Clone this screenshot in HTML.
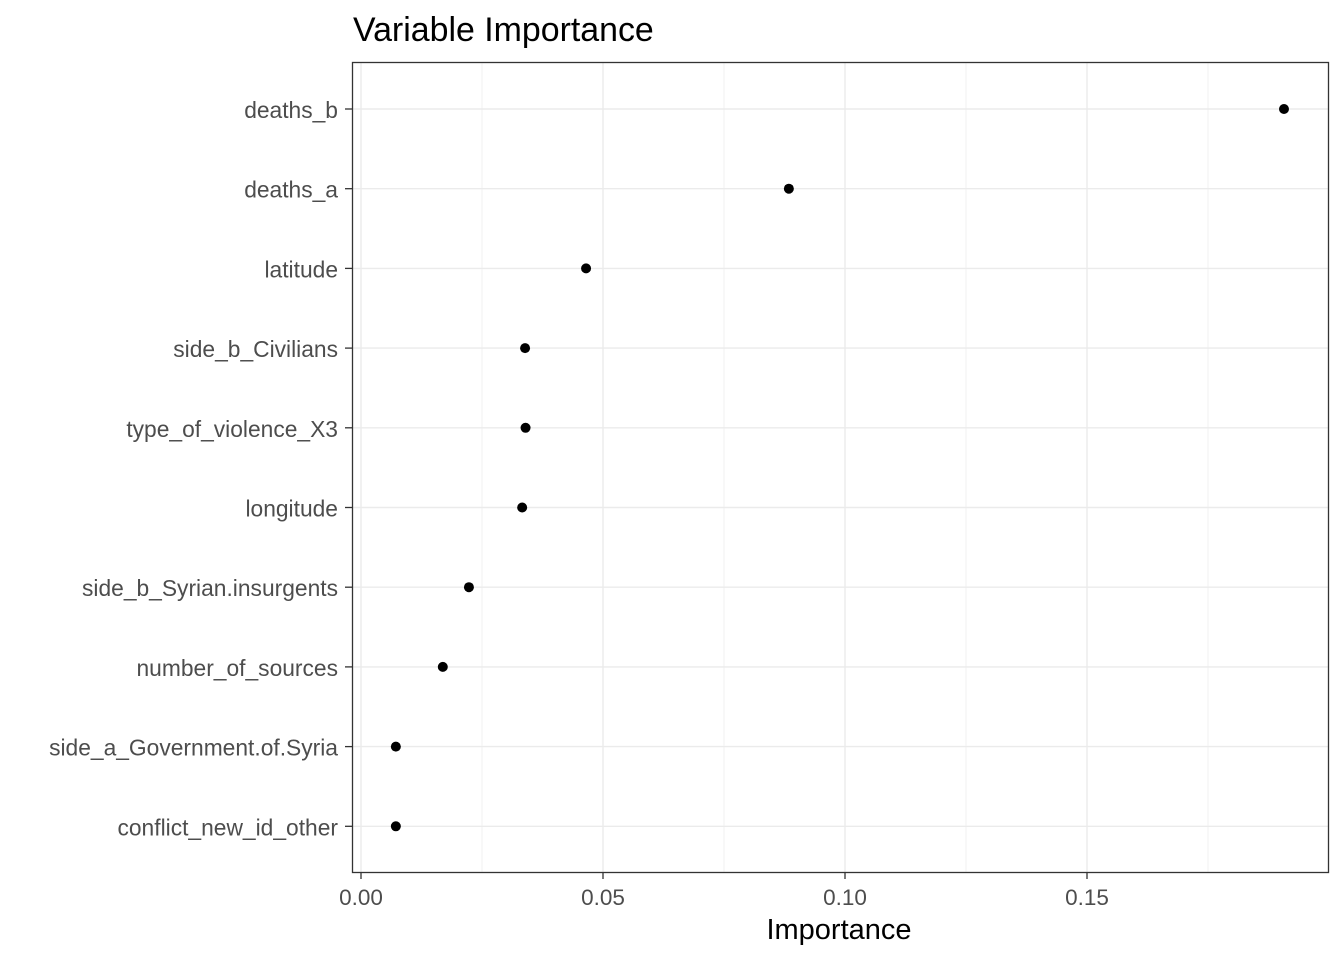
<!DOCTYPE html>
<html><head><meta charset="utf-8"><style>
body{margin:0;background:#fff;font-family:"Liberation Sans",Arial,sans-serif}
svg text{font-family:"Liberation Sans",Arial,sans-serif}
</style></head><body>
<svg id="chart" width="1344" height="960">
<text x="353" y="41" font-size="33.9" fill="#000">Variable Importance</text>
<g id="grid"></g>
<g id="ylabels"></g>
<g id="xlabels"></g>
<g id="points"></g>
<rect x="352.5" y="62.5" width="976" height="810" fill="none" stroke="#333" stroke-width="1.3"/>
<text x="839" y="939" font-size="29" text-anchor="middle" fill="#000">Importance</text>
</svg>
<script>
const categories=["deaths_b","deaths_a","latitude","side_b_Civilians","type_of_violence_X3","longitude","side_b_Syrian.insurgents","number_of_sources","side_a_Government.of.Syria","conflict_new_id_other"];
const values=[0.1907,0.0884,0.0465,0.0339,0.0340,0.0333,0.0223,0.0169,0.0072,0.0072];
const xTicks=[0,0.05,0.10,0.15];
const xTickLabels=["0.00","0.05","0.10","0.15"];
const xMinor=[0.025,0.075,0.125,0.175];
const NS="http://www.w3.org/2000/svg";
const x=v=>361+v*4840;
const y=i=>109+i*79.7;
function mk(tag,attrs,parent){const e=document.createElementNS(NS,tag);for(const k in attrs)e.setAttribute(k,attrs[k]);document.getElementById(parent).appendChild(e);return e;}
xMinor.forEach(v=>{const l=mk('line',{x1:x(v),x2:x(v),y1:62,y2:872,stroke:'#f2f2f2','stroke-width':1},'grid');

});
xTicks.forEach((v,i)=>{const l=mk('line',{x1:x(v),x2:x(v),y1:62,y2:872,stroke:'#ebebeb','stroke-width':1.4},'grid');


const t=mk('line',{x1:x(v),x2:x(v),y1:872,y2:879,stroke:'#333','stroke-width':1.3},'xlabels');


const tx=mk('text',{x:x(v),y:905,'font-size':22.5,'text-anchor':'middle',fill:'#4d4d4d'},'xlabels');
tx.textContent=xTickLabels[i];

});
categories.forEach((c,i)=>{const l=mk('line',{x1:352,x2:1329,y1:y(i),y2:y(i),stroke:'#ebebeb','stroke-width':1.4},'grid');


const t=mk('line',{x1:345,x2:352,y1:y(i),y2:y(i),stroke:'#333','stroke-width':1.3},'ylabels');


const tx=mk('text',{x:338,y:y(i)+9,'font-size':22.8,'text-anchor':'end',fill:'#4d4d4d'},'ylabels');
tx.textContent=c;


const p=mk('circle',{cx:x(values[i]),cy:y(i),r:5,fill:'#000'},'points');

});
</script>
</body></html>
